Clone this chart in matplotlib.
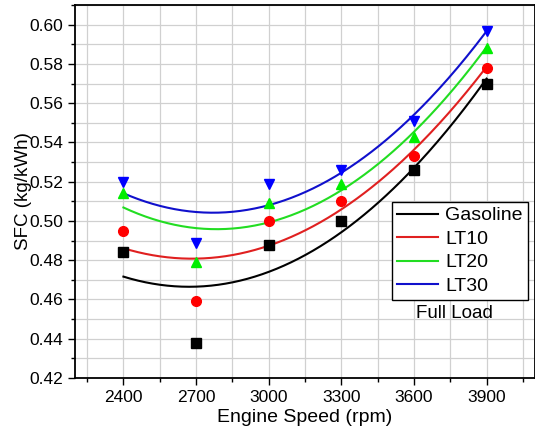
import numpy as np
import matplotlib.pyplot as plt
from matplotlib.ticker import MultipleLocator

plt.rcParams['font.family'] = ['Liberation Sans', 'DejaVu Sans']

# engine speed (rpm)
speed = np.array([2400, 2700, 3000, 3300, 3600, 3900])

# specific fuel consumption (kg/kWh)
gasoline = [0.484, 0.438, 0.488, 0.500, 0.526, 0.570]
lt10 = [0.495, 0.459, 0.500, 0.510, 0.533, 0.578]
lt20 = [0.514, 0.479, 0.509, 0.519, 0.543, 0.588]
lt30 = [0.520, 0.489, 0.519, 0.526, 0.551, 0.597]

labels = ['Gasoline', 'LT10', 'LT20', 'LT30']
series = [gasoline, lt10, lt20, lt30]
marker_colors = ['black', '#ff0000', '#00ee00', '#0000ff']
line_colors = ['black', '#e02020', '#22dd22', '#1010cc']
markers = ['s', 'o', '^', 'v']

fig = plt.figure(figsize=(5.35, 4.3), dpi=100)
ax = fig.add_axes([75 / 535, 1 - 378 / 430, 460 / 535, 373 / 430])

xs = np.linspace(speed[0], speed[-1], 200)
for vals, lab, mc, lc, mk in zip(series, labels, marker_colors, line_colors, markers):
    # quadratic fit, as in the original
    coef = np.polyfit(speed, vals, 2)
    ax.plot(xs, np.polyval(coef, xs), color=lc, lw=1.5, label=lab, zorder=3)
    ax.plot(speed, vals, linestyle='none', marker=mk, color=mc, ms=7, zorder=4)

ax.set_xlim(2200, 4100)
ax.set_ylim(0.42, 0.61)
ax.xaxis.set_major_locator(MultipleLocator(300))
ax.xaxis.set_minor_locator(MultipleLocator(150))
ax.yaxis.set_major_locator(MultipleLocator(0.02))
ax.yaxis.set_minor_locator(MultipleLocator(0.01))
ax.yaxis.set_major_formatter(plt.FormatStrFormatter('%.2f'))
ax.set_xticks([2400, 2700, 3000, 3300, 3600, 3900])

ax.grid(True, which='both', color='#d0d0d0', lw=0.9, zorder=0)
ax.set_axisbelow(True)
ax.tick_params(which='major', direction='out', length=5, width=1, labelsize=12.5)
ax.tick_params(which='minor', direction='out', length=3, width=1)
for s in ax.spines.values():
    s.set_linewidth(1.3)

ax.set_xlabel('Engine Speed (rpm)', fontsize=14, labelpad=3)
ax.set_ylabel('SFC (kg/kWh)', fontsize=13.5)
ax.yaxis.set_label_coords(-0.094, 0.5)

leg = ax.legend(loc='upper left', bbox_to_anchor=(317 / 460, (378 - 202) / 373),
                fontsize=14, frameon=True, fancybox=False, edgecolor='black',
                handlelength=2.1, handletextpad=0.4, borderpad=0.25, labelspacing=0.3,
                borderaxespad=0)
leg.get_frame().set_linewidth(1.0)
leg.get_frame().set_alpha(1)

ax.text((454 - 75) / 460, (378 - 314) / 373, 'Full Load', transform=ax.transAxes,
        ha='center', va='center', fontsize=13.5)

fig.savefig('out.png', dpi=100)
